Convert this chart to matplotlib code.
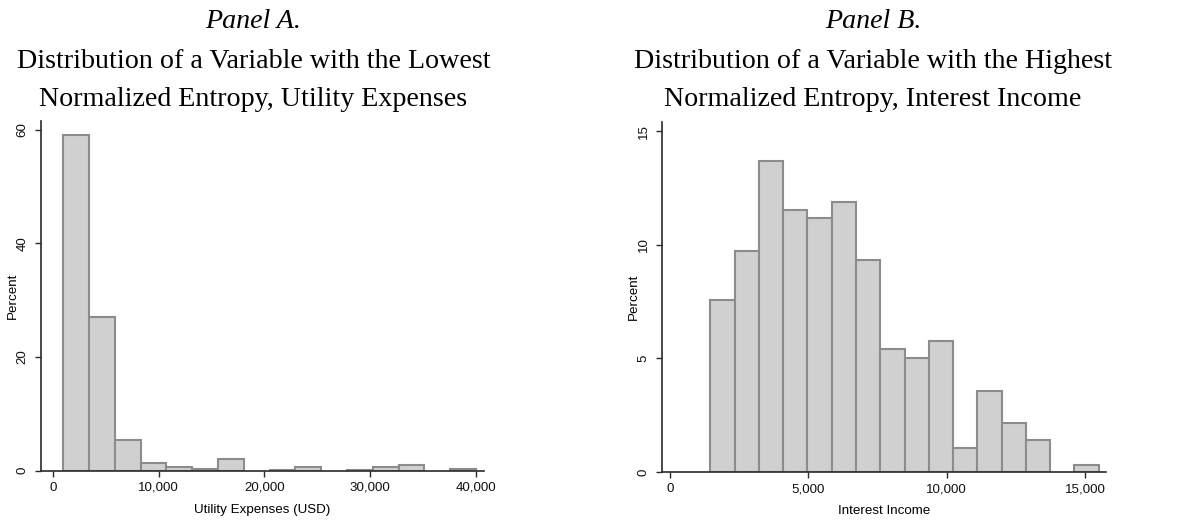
import numpy as np
import matplotlib
matplotlib.use('Agg')
import matplotlib.pyplot as plt

# 左图：公用事业支出（16 个分箱，单位 USD）
util_lo, util_hi = 1000, 40000
util_pct = [59.0, 27.0, 5.4, 1.3, 0.6, 0.25, 2.06, 0.0,
            0.2, 0.6, 0.0, 0.2, 0.6, 1.0, 0.0, 0.25]
util_xticks = [0, 10000, 20000, 30000, 40000]
util_yticks = [0, 20, 40, 60]

# 右图：利息收入（16 个分箱）
int_lo, int_hi = 1467, 15480
int_pct = [7.56, 9.72, 13.69, 11.54, 11.17, 11.87, 9.35, 5.40,
           5.02, 5.75, 1.06, 3.58, 2.14, 1.41, 0.0, 0.32]
int_xticks = [0, 5000, 10000, 15000]
int_yticks = [0, 5, 10, 15]

sans = ['Liberation Sans', 'DejaVu Sans']
serif = ['Liberation Serif', 'DejaVu Serif']
fill = '#d0d0d0'
edge = '#8c8c8c'
axcol = '#2a2a2a'
fs = 9.6


def draw_hist(ax, lo, hi, pct, xticks, yticks, xlim, ylim, xlabel):
    edges = np.linspace(lo, hi, len(pct) + 1)
    w = edges[1] - edges[0]
    for x0, p in zip(edges[:-1], pct):
        if p > 0:
            ax.bar(x0, p, width=w, align='edge', color=fill,
                   edgecolor=edge, linewidth=1.5, zorder=2)
    ax.set_xlim(*xlim)
    ax.set_ylim(*ylim)
    ax.set_xticks(xticks)
    ax.set_xticklabels(['{:,}'.format(t) for t in xticks],
                       fontsize=fs, family=sans)
    ax.set_yticks(yticks)
    ax.set_yticklabels([str(t) for t in yticks], fontsize=fs,
                       family=sans, rotation=90, va='center')
    for s in ['top', 'right']:
        ax.spines[s].set_visible(False)
    for s in ['left', 'bottom']:
        ax.spines[s].set_color(axcol)
        ax.spines[s].set_linewidth(1.2)
    ax.tick_params(axis='both', direction='out', length=4.5, width=1.0,
                   color=axcol, labelcolor='#111111')
    ax.tick_params(axis='x', pad=3.5)
    ax.tick_params(axis='y', pad=4.5)
    ax.set_xlabel(xlabel, fontsize=fs, family=sans, va='center')
    ax.set_ylabel('Percent', fontsize=fs, family=sans, va='center')
    ax.xaxis.set_label_coords(0.5, -0.111)
    ax.yaxis.set_label_coords(-0.063, 0.5)


fig = plt.figure(figsize=(11.98, 5.24), dpi=100)

ax1 = fig.add_axes([0.034, 0.1017, 0.370, 0.668])
draw_hist(ax1, util_lo, util_hi, util_pct, util_xticks, util_yticks,
          (-1134, 40755), (0, 61.6), 'Utility Expenses (USD)')

ax2 = fig.add_axes([0.5526, 0.0992, 0.3706, 0.668])
draw_hist(ax2, int_lo, int_hi, int_pct, int_xticks, int_yticks,
          (-278, 15745), (0, 15.41), 'Interest Income')

# 标题
H = 524.0
tfs = 20.2
titles = [
    (253.5 / 1198, 'Panel A.', 'Distribution of a Variable with the Lowest',
     'Normalized Entropy, Utility Expenses'),
    (873 / 1198, 'Panel B.', 'Distribution of a Variable with the Highest',
     'Normalized Entropy, Interest Income'),
]
for cx, l1, l2, l3 in titles:
    fig.text(cx, 1 - 22 / H, l1, ha='center', va='center', fontsize=tfs,
             family=serif, style='italic')
    fig.text(cx, 1 - 62 / H, l2, ha='center', va='center', fontsize=tfs,
             family=serif)
    fig.text(cx, 1 - 100 / H, l3, ha='center', va='center', fontsize=tfs,
             family=serif)

fig.savefig('out.png', dpi=100, facecolor='white')
